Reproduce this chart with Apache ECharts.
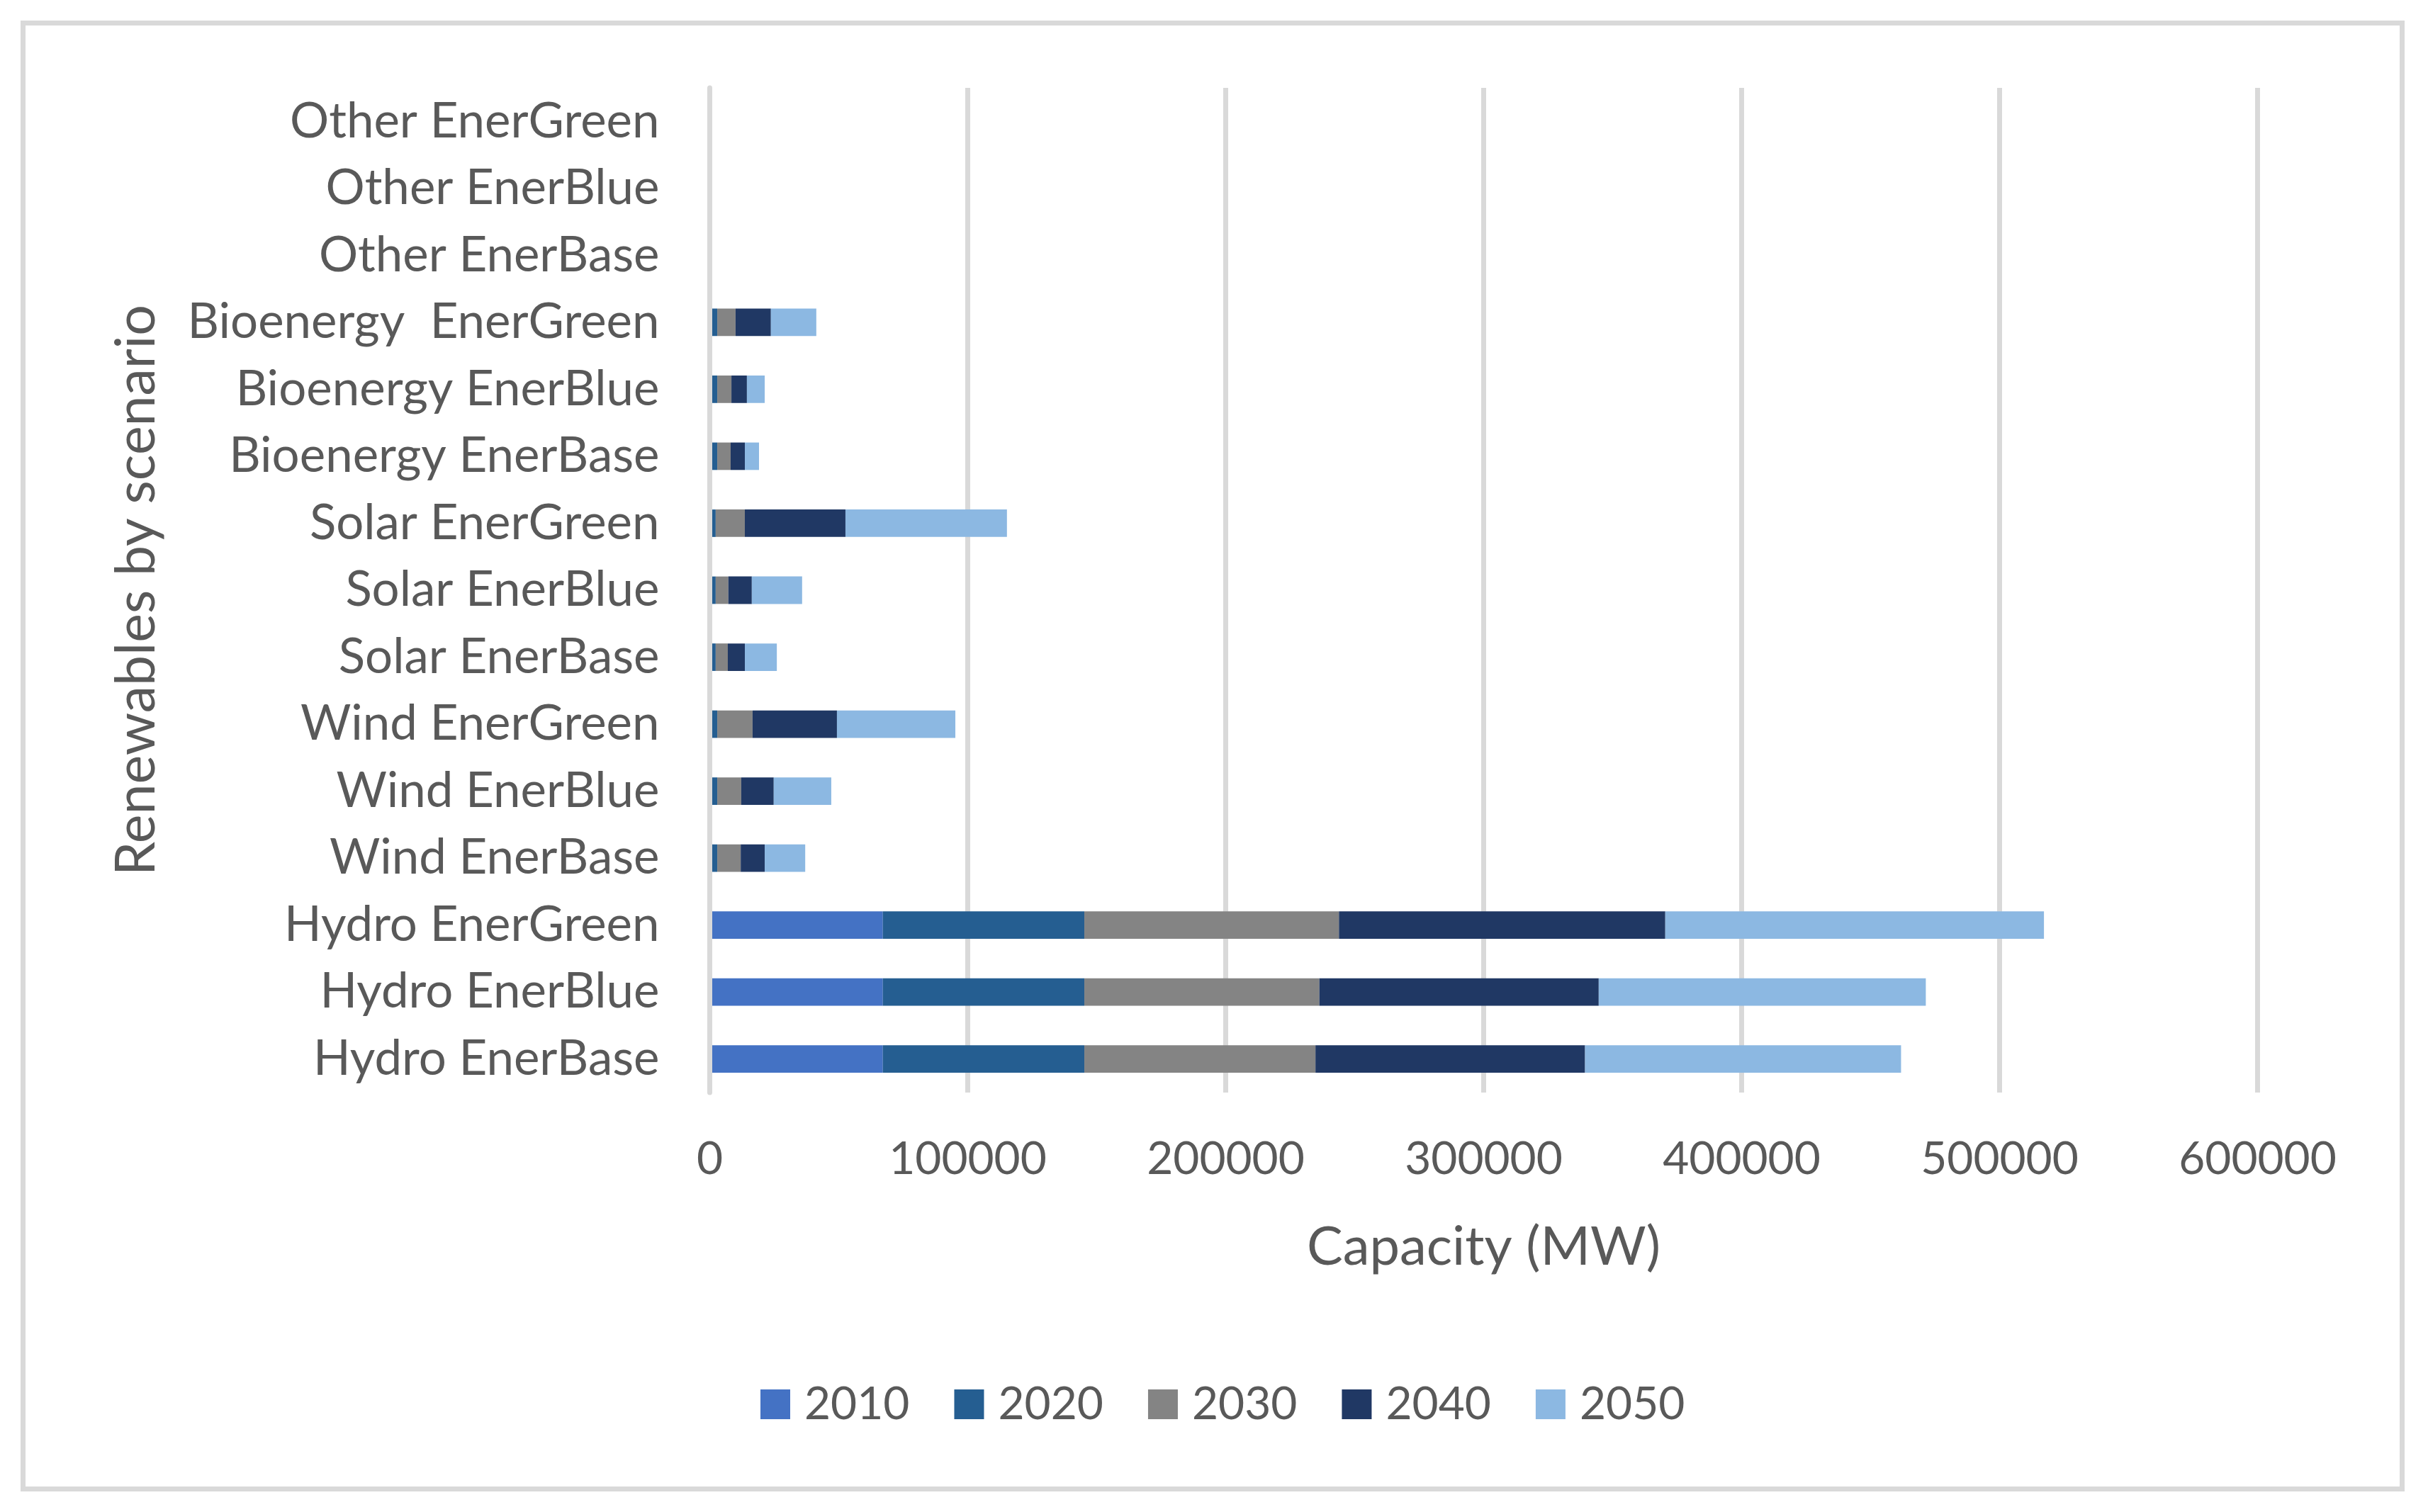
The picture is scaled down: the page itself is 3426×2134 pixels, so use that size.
<!DOCTYPE html>
<html>
<head>
<meta charset="utf-8">
<script src="https://cdn.jsdelivr.net/npm/echarts@6/dist/echarts.min.js"></script>
<style>
html,body{margin:0;padding:0;background:#fff;}
#c{width:3426px;height:2134px;}
</style>
</head>
<body>
<div id="c"></div>
<script>
const categories = [
  'Hydro EnerBase', 'Hydro EnerBlue', 'Hydro EnerGreen',
  'Wind EnerBase', 'Wind EnerBlue', 'Wind EnerGreen',
  'Solar EnerBase', 'Solar EnerBlue', 'Solar EnerGreen',
  'Bioenergy EnerBase', 'Bioenergy EnerBlue', 'Bioenergy  EnerGreen',
  'Other EnerBase', 'Other EnerBlue', 'Other EnerGreen'
];
const seriesNames = ['2010', '2020', '2030', '2040', '2050'];
const v2010 = [67100, 67100, 67100, 0, 0, 0, 0, 0, 0, 0, 0, 0, 0, 0, 0];
const v2020 = [78100, 78100, 78100, 2900, 2900, 2900, 2300, 2300, 2300, 2900, 2900, 2900, 0, 0, 0];
const v2030 = [89600, 91100, 98700, 9100, 9300, 13700, 4700, 4900, 11300, 5200, 5500, 7100, 0, 0, 0];
const v2040 = [104500, 108300, 126500, 9300, 12600, 32700, 6600, 9100, 39000, 5500, 6000, 13700, 0, 0, 0];
const v2050 = [122500, 126800, 146800, 15700, 22300, 45900, 12400, 19500, 62600, 5500, 6900, 17600, 0, 0, 0];
const xTicks = [0, 100000, 200000, 300000, 400000, 500000, 600000];
const colors = ['#4472C4', '#255E91', '#848484', '#203864', '#8CB8E2'];

const allValues = [v2010, v2020, v2030, v2040, v2050];
const FONT = 'Lato';
const TXT = '#595959';

const chart = echarts.init(document.getElementById('c'), null, {renderer: 'canvas'});
chart.setOption({
  backgroundColor: '#ffffff',
  animation: false,
  color: colors,
  textStyle: {fontFamily: FONT, color: TXT},
  graphic: [{
    type: 'rect',
    shape: {x: 32.5, y: 32.5, width: 3357, height: 2069},
    style: {fill: 'none', stroke: '#D9D9D9', lineWidth: 7},
    z: 100
  }],
  legend: {
    data: seriesNames,
    left: 1073,
    top: 1950,
    padding: 0,
    itemWidth: 42,
    itemHeight: 42,
    itemGap: 63,
    icon: 'rect',
    textStyle: {fontFamily: FONT, fontSize: 64, color: TXT, padding: [0, 0, 0, 15]}
  },
  grid: {left: 1001.5, right: 240.5, top: 124, bottom: 592, containLabel: false},
  xAxis: {
    type: 'value',
    min: xTicks[0],
    max: xTicks[xTicks.length - 1],
    interval: 100000,
    name: 'Capacity (MW)',
    nameLocation: 'middle',
    nameGap: 180,
    nameTextStyle: {fontFamily: FONT, fontSize: 76, color: TXT},
    axisLine: {show: false},
    axisTick: {show: false},
    axisLabel: {fontFamily: FONT, fontSize: 64, color: TXT, margin: 62, formatter: v => String(v)},
    splitLine: {show: true, lineStyle: {color: '#D9D9D9', width: 7}}
  },
  yAxis: {
    type: 'category',
    data: categories,
    z: 5,
    name: 'Renewables by scenario',
    nameLocation: 'middle',
    nameRotate: 90,
    nameGap: 770,
    nameTextStyle: {fontFamily: FONT, fontSize: 77, color: TXT},
    axisLine: {show: true, lineStyle: {color: '#D9D9D9', width: 7}},
    axisTick: {show: false},
    axisLabel: {fontFamily: FONT, fontSize: 69, color: TXT, margin: 71},
    splitLine: {show: false}
  },
  series: seriesNames.map((n, i) => ({
    name: n,
    type: 'bar',
    stack: 'total',
    barWidth: '41%',
    data: allValues[i],
    itemStyle: {color: colors[i]}
  }))
});
</script>
</body>
</html>
